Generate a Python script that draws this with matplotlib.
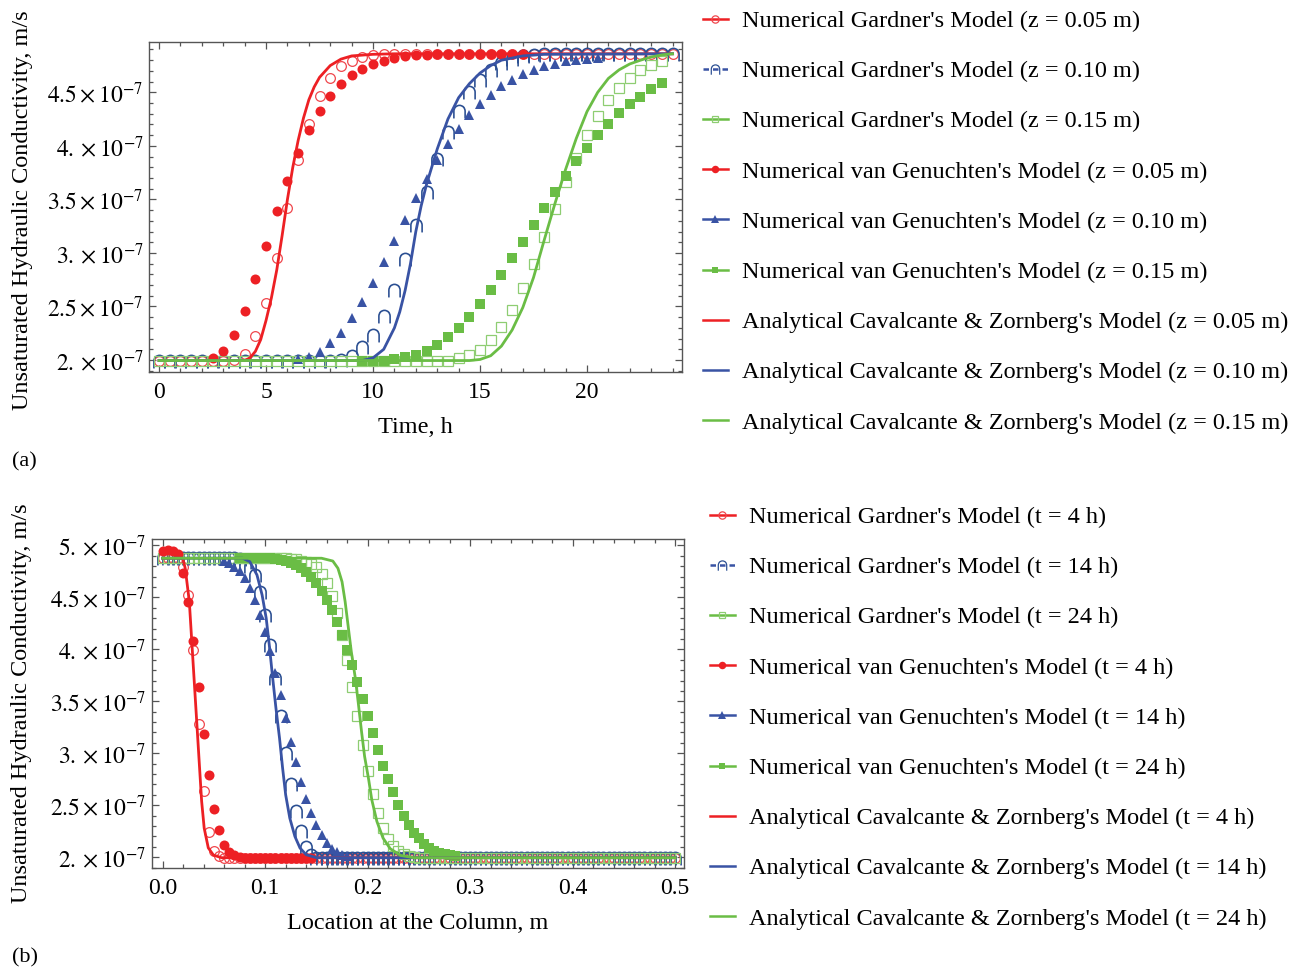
import matplotlib
matplotlib.use("Agg")
import matplotlib.pyplot as plt
from matplotlib.lines import Line2D
from matplotlib.ticker import FixedLocator, MultipleLocator, FuncFormatter

plt.rcParams['font.family'] = ['Liberation Serif', 'DejaVu Serif']
plt.rcParams['mathtext.fontset'] = 'stix'

# ---------------------------------------------------------------- colours
RED = '#ED2024'
RED_OPEN = '#F0474D'
BLUE = '#3953A4'
BLUE_DARK = '#2B4F92'
GREEN = '#6ABD45'
GREEN_OPEN = '#8ECD72'

# ------------------------------------------------ (a) K versus time, z fixed
TIME_H = [0, 0.5, 1, 1.5, 2, 2.5, 3, 3.5, 4, 4.5, 5, 5.5, 6, 6.5, 7, 7.5, 8,
          8.5, 9, 9.5, 10, 10.5, 11, 11.5, 12, 12.5, 13, 13.5, 14, 14.5, 15,
          15.5, 16, 16.5, 17, 17.5, 18, 18.5, 19, 19.5, 20, 20.5, 21, 21.5,
          22, 22.5, 23, 23.5, 24]

# hydraulic conductivity in units of 1e-7 m/s
GARDNER_Z005 = [1.99, 1.99, 1.99, 1.99, 1.99, 1.99, 1.99, 2.00, 2.056, 2.224,
                2.529, 2.951, 3.42, 3.866, 4.208, 4.466, 4.634, 4.743, 4.796,
                4.83, 4.848, 4.855, 4.86, 4.86, 4.86, 4.86, 4.86, 4.86, 4.86,
                4.86, 4.86, 4.86, 4.86, 4.86, 4.86, 4.86, 4.86, 4.86, 4.86,
                4.86, 4.86, 4.86, 4.86, 4.86, 4.86, 4.86, 4.86, 4.86, 4.86]
GARDNER_Z010 = [1.99, 1.99, 1.99, 1.99, 1.99, 1.99, 1.99, 1.99, 1.99, 1.99,
                1.99, 1.99, 1.99, 1.99, 1.99, 1.99, 1.99, 2.00, 2.04, 2.124,
                2.233, 2.41, 2.653, 2.94, 3.265, 3.57, 3.88, 4.13, 4.33, 4.503,
                4.618, 4.705, 4.77, 4.81, 4.835, 4.848, 4.855, 4.855, 4.855,
                4.855, 4.855, 4.855, 4.855, 4.855, 4.855, 4.855, 4.855, 4.855,
                4.855]
GARDNER_Z015 = [1.99, 1.99, 1.99, 1.99, 1.99, 1.99, 1.99, 1.99, 1.99, 1.99,
                1.99, 1.99, 1.99, 1.99, 1.99, 1.99, 1.99, 1.99, 1.99, 1.99,
                1.99, 1.99, 1.99, 1.99, 1.99, 1.99, 1.99, 1.99, 2.016, 2.047,
                2.093, 2.187, 2.31, 2.466, 2.675, 2.90, 3.15, 3.41, 3.663, 3.89,
                4.10, 4.276, 4.425, 4.54, 4.634, 4.705, 4.758, 4.792]
# van Genuchten runs cover a shorter window of TIME_H (start index given)
VG_Z005_START = 5
VG_Z005 = [2.016, 2.084, 2.233, 2.46, 2.753, 3.066, 3.387, 3.676, 3.934,
           4.152, 4.329, 4.466, 4.577, 4.659, 4.717, 4.761, 4.796, 4.82,
           4.836, 4.848, 4.852, 4.855, 4.855, 4.855, 4.855, 4.855, 4.855,
           4.855, 4.855, 4.855]
VG_Z010_START = 13
VG_Z010 = [2.01, 2.03, 2.078, 2.155, 2.255, 2.39, 2.54, 2.72, 2.917, 3.113,
           3.31, 3.51, 3.695, 3.87, 4.02, 4.16, 4.285, 4.388, 4.478, 4.556,
           4.618, 4.674, 4.705, 4.743, 4.768, 4.789, 4.80, 4.81, 4.818]
VG_Z015_START = 19
VG_Z015 = [1.99, 1.99, 1.995, 2.007, 2.025, 2.05, 2.087, 2.14, 2.218, 2.30,
           2.404, 2.522, 2.653, 2.793, 2.955, 3.104, 3.26, 3.42, 3.57, 3.72,
           3.86, 3.98, 4.10, 4.20, 4.307, 4.388, 4.46, 4.528, 4.587]

# closed-form solution, sampled more densely across each front
AN_Z005_T = [0, 4.0, 4.25, 4.5, 4.75, 5.0, 5.25, 5.5, 5.75, 6.0, 6.25, 6.5,
             6.75, 7.0, 7.25, 7.5, 8.0, 8.5, 9.0, 10.0, 11.0, 24.0]
AN_Z005_K = [1.995, 1.995, 2.02, 2.08, 2.19, 2.37, 2.58, 2.84, 3.16, 3.50,
             3.80, 4.05, 4.26, 4.43, 4.55, 4.64, 4.75, 4.81, 4.84, 4.855,
             4.86, 4.86]
AN_Z010_T = [0, 9.5, 10.0, 10.5, 11.0, 11.25, 11.5, 11.75, 12.0, 12.25, 12.5,
             13.0, 13.5, 14.0, 14.5, 15.0, 15.5, 16.0, 17.0, 18.0, 24.0]
AN_Z010_K = [1.995, 1.995, 2.02, 2.10, 2.30, 2.45, 2.65, 2.90, 3.20, 3.44,
             3.64, 3.97, 4.25, 4.45, 4.58, 4.68, 4.75, 4.80, 4.84, 4.855,
             4.86]
AN_Z015_T = [0, 14.5, 15.0, 15.5, 16.0, 16.5, 17.0, 17.5, 18.0, 18.5, 19.0,
             19.5, 20.0, 20.5, 21.0, 21.5, 22.0, 22.5, 23.0, 23.5, 24.0]
AN_Z015_K = [1.995, 1.995, 2.005, 2.04, 2.13, 2.28, 2.49, 2.77, 3.12, 3.46,
             3.78, 4.07, 4.32, 4.50, 4.63, 4.71, 4.765, 4.80, 4.83, 4.85,
             4.86]

# ----------------------------------------------- (b) K versus depth, t fixed
DEPTH_M = [0.0, 0.005, 0.01, 0.015, 0.02, 0.025, 0.03, 0.035, 0.04, 0.045,
           0.05, 0.055, 0.06, 0.065, 0.07, 0.075, 0.08, 0.085, 0.09, 0.095,
           0.1, 0.105, 0.11, 0.115, 0.12, 0.125, 0.13, 0.135, 0.14, 0.145,
           0.15, 0.155, 0.16, 0.165, 0.17, 0.175, 0.18, 0.185, 0.19, 0.195,
           0.2, 0.205, 0.21, 0.215, 0.22, 0.225, 0.23, 0.235, 0.24, 0.245,
           0.25, 0.255, 0.26, 0.265, 0.27, 0.275, 0.28, 0.285, 0.29, 0.295,
           0.3, 0.305, 0.31, 0.315, 0.32, 0.325, 0.33, 0.335, 0.34, 0.345,
           0.35, 0.355, 0.36, 0.365, 0.37, 0.375, 0.38, 0.385, 0.39, 0.395,
           0.4, 0.405, 0.41, 0.415, 0.42, 0.425, 0.43, 0.435, 0.44, 0.445,
           0.45, 0.455, 0.46, 0.465, 0.47, 0.475, 0.48, 0.485, 0.49, 0.495,
           0.5]

GARDNER_T4 = [4.877, 4.877, 4.877, 4.877, 4.79, 4.524, 3.99, 3.28, 2.64,
              2.24, 2.06, 2.01, 1.99, 1.99, 1.99, 1.99, 1.99, 1.99, 1.99,
              1.99, 1.99, 1.99, 1.99, 1.99, 1.99, 1.99, 1.99, 1.99, 1.99,
              1.99, 1.99, 1.99, 1.99, 1.99, 1.99, 1.99, 1.99, 1.99, 1.99,
              1.99, 1.99, 1.99, 1.99, 1.99, 1.99, 1.99, 1.99, 1.99, 1.99,
              1.99, 1.99, 1.99, 1.99, 1.99, 1.99, 1.99, 1.99, 1.99, 1.99,
              1.99, 1.99, 1.99, 1.99, 1.99, 1.99, 1.99, 1.99, 1.99, 1.99,
              1.99, 1.99, 1.99, 1.99, 1.99, 1.99, 1.99, 1.99, 1.99, 1.99,
              1.99, 1.99, 1.99, 1.99, 1.99, 1.99, 1.99, 1.99, 1.99, 1.99,
              1.99, 1.99, 1.99, 1.99, 1.99, 1.99, 1.99, 1.99, 1.99, 1.99,
              1.99, 1.99]
GARDNER_T14 = [4.877, 4.877, 4.877, 4.877, 4.877, 4.877, 4.877, 4.877,
               4.877, 4.877, 4.877, 4.877, 4.877, 4.877, 4.877, 4.865, 4.84,
               4.80, 4.72, 4.556, 4.33, 4.043, 3.72, 3.354, 3.0, 2.70, 2.44,
               2.25, 2.10, 2.02, 1.99, 1.99, 1.99, 1.99, 1.99, 1.99, 1.99,
               1.99, 1.99, 1.99, 1.99, 1.99, 1.99, 1.99, 1.99, 1.99, 1.99,
               1.99, 1.99, 1.99, 1.99, 1.99, 1.99, 1.99, 1.99, 1.99, 1.99,
               1.99, 1.99, 1.99, 1.99, 1.99, 1.99, 1.99, 1.99, 1.99, 1.99,
               1.99, 1.99, 1.99, 1.99, 1.99, 1.99, 1.99, 1.99, 1.99, 1.99,
               1.99, 1.99, 1.99, 1.99, 1.99, 1.99, 1.99, 1.99, 1.99, 1.99,
               1.99, 1.99, 1.99, 1.99, 1.99, 1.99, 1.99, 1.99, 1.99, 1.99,
               1.99, 1.99, 1.99, 1.99]
GARDNER_T24 = [4.877, 4.877, 4.877, 4.877, 4.877, 4.877, 4.877, 4.877,
               4.877, 4.877, 4.877, 4.877, 4.877, 4.877, 4.877, 4.877,
               4.877, 4.877, 4.877, 4.877, 4.877, 4.877, 4.877, 4.877,
               4.877, 4.87, 4.865, 4.85, 4.84, 4.82, 4.797, 4.723, 4.636,
               4.514, 4.354, 4.14, 3.90, 3.642, 3.354, 3.082, 2.825, 2.607,
               2.425, 2.28, 2.175, 2.104, 2.056, 2.03, 2.015, 2.005, 1.99,
               1.99, 1.99, 1.99, 1.99, 1.99, 1.99, 1.99, 1.99, 1.99, 1.99,
               1.99, 1.99, 1.99, 1.99, 1.99, 1.99, 1.99, 1.99, 1.99, 1.99,
               1.99, 1.99, 1.99, 1.99, 1.99, 1.99, 1.99, 1.99, 1.99, 1.99,
               1.99, 1.99, 1.99, 1.99, 1.99, 1.99, 1.99, 1.99, 1.99, 1.99,
               1.99, 1.99, 1.99, 1.99, 1.99, 1.99, 1.99, 1.99, 1.99, 1.99]
VG_T4_START = 0
VG_T4 = [4.95, 4.955, 4.95, 4.92, 4.733, 4.46, 4.082, 3.637, 3.185, 2.787,
         2.466, 2.258, 2.12, 2.05, 2.017, 2.0, 1.99, 1.99, 1.99, 1.99, 1.99,
         1.99, 1.99, 1.99, 1.99, 1.99, 1.99, 1.99, 1.99, 1.99]
VG_T14_START = 12
VG_T14 = [4.85, 4.83, 4.795, 4.755, 4.685, 4.59, 4.476, 4.33, 4.17, 3.98,
          3.77, 3.556, 3.338, 3.113, 2.912, 2.726, 2.56, 2.425, 2.306, 2.216,
          2.136, 2.08, 2.05, 2.025, 2.01]
VG_T24_START = 15
VG_T24 = [4.877, 4.877, 4.877, 4.877, 4.877, 4.877, 4.875, 4.87, 4.86, 4.85,
          4.835, 4.81, 4.78, 4.742, 4.70, 4.636, 4.563, 4.476, 4.38, 4.26,
          4.14, 3.995, 3.85, 3.69, 3.524, 3.36, 3.197, 3.034, 2.88, 2.752,
          2.623, 2.505, 2.40, 2.31, 2.23, 2.18, 2.13, 2.09, 2.06, 2.04, 2.03,
          2.02, 2.01]

AN_T4_X = [0, 0.018, 0.020, 0.022, 0.026, 0.028, 0.030, 0.032, 0.034, 0.036,
           0.038, 0.0405, 0.0445, 0.0495, 0.0575, 0.5]
AN_T4_K = [4.877, 4.877, 4.86, 4.78, 4.46, 4.14, 3.82, 3.50, 3.18, 2.86,
           2.54, 2.28, 2.09, 2.02, 1.995, 1.995]
AN_T14_X = [0, 0.078, 0.085, 0.092, 0.097, 0.101, 0.104, 0.107, 0.1105,
            0.114, 0.117, 0.120, 0.124, 0.129, 0.134, 0.140, 0.150, 0.5]
AN_T14_K = [4.877, 4.877, 4.844, 4.716, 4.524, 4.30, 4.043, 3.755, 3.435,
            3.146, 2.858, 2.60, 2.377, 2.20, 2.088, 2.024, 1.995, 1.995]
AN_T24_X = [0, 0.155, 0.166, 0.171, 0.175, 0.178, 0.181, 0.184, 0.188, 0.191,
            0.194, 0.197, 0.201, 0.204, 0.209, 0.215, 0.222, 0.232, 0.245,
            0.5]
AN_T24_K = [4.877, 4.877, 4.85, 4.78, 4.65, 4.46, 4.22, 3.98, 3.72, 3.47,
            3.21, 2.97, 2.745, 2.553, 2.344, 2.184, 2.082, 2.017, 1.995,
            1.995]

Y_TICKS_A = [2.0, 2.5, 3.0, 3.5, 4.0, 4.5]
Y_TICKS_B = [2.0, 2.5, 3.0, 3.5, 4.0, 4.5, 5.0]
X_TICKS_A = [0, 5, 10, 15, 20]
X_TICKS_B = [0.0, 0.1, 0.2, 0.3, 0.4, 0.5]

Y_LABEL = 'Unsaturated Hydraulic Conductivity, m/s'

# ------------------------------------------------------------ marker styles
ARCH = r'$\cap$'
STYLE = {
    'g_red':   dict(marker='o', ms=7.0, mfc='none', mec=RED_OPEN, mew=0.9, color=RED),
    'g_blue':  dict(marker=ARCH, ms=10.0, mfc=BLUE_DARK, mec=BLUE_DARK, mew=0.0, color=BLUE),
    'g_green': dict(marker='s', ms=6.5, mfc='none', mec=GREEN_OPEN, mew=0.9, color=GREEN),
    'v_red':   dict(marker='o', ms=7.2, mfc=RED, mec=RED, mew=0.0, color=RED),
    'v_blue':  dict(marker='^', ms=7.2, mfc=BLUE, mec=BLUE, mew=0.0, color=BLUE),
    'v_green': dict(marker='s', ms=6.6, mfc=GREEN, mec=GREEN, mew=0.0, color=GREEN),
}
LINE_W = 2.0
FRAME = '#555555'
TEXT_SIZE = 17.5


def k_label(v, _pos=None):
    s = f'{int(round(v))}.' if abs(v - round(v)) < 1e-9 else f'{v:g}'
    return rf'${s}\times10^{{-7}}$'


def scatter(ax, x, y, key, z):
    st = dict(STYLE[key])
    st.pop('color')
    ax.plot(x, y, ls='none', zorder=z, clip_on=True, **st)


def style_axes(ax, xticks, xminor, yticks, xfmt):
    for sp in ax.spines.values():
        sp.set_color(FRAME)
        sp.set_linewidth(1.0)
    ax.xaxis.set_major_locator(FixedLocator(xticks))
    ax.xaxis.set_minor_locator(MultipleLocator(xminor))
    ax.yaxis.set_major_locator(FixedLocator(yticks))
    ax.yaxis.set_minor_locator(MultipleLocator(0.1))
    ax.xaxis.set_major_formatter(FuncFormatter(xfmt))
    ax.yaxis.set_major_formatter(FuncFormatter(k_label))
    ax.tick_params(which='both', direction='in', top=True, right=True,
                   color=FRAME, width=0.9, labelcolor='black')
    ax.tick_params(axis='x', labelsize=17)
    ax.tick_params(axis='y', labelsize=17)
    ax.tick_params(which='major', length=5)
    ax.tick_params(which='minor', length=3)
    ax.tick_params(axis='x', pad=7)
    ax.tick_params(axis='y', pad=4)


def legend_handles():
    hs = []
    for key, ls in [('g_red', '-'), ('g_blue', (0, (2.2, 1.6))), ('g_green', '-'),
                    ('v_red', '-'), ('v_blue', '-'), ('v_green', '-')]:
        st = dict(STYLE[key])
        color = st.pop('color')
        st['ms'] = st['ms'] * 0.75
        hs.append(Line2D([], [], color=color, lw=1.8, ls=ls, **st))
    for color in (RED, BLUE, GREEN):
        hs.append(Line2D([], [], color=color, lw=1.8))
    return hs


fig = plt.figure(figsize=(13.01, 9.71), dpi=100)
W, H = 1301.0, 971.0

# ------------------------------------------------------------------ panel (a)
ax1 = fig.add_axes([149 / W, 1 - 372 / H, 533 / W, 330 / H])
scatter(ax1, TIME_H, GARDNER_Z005, 'g_red', 3)
scatter(ax1, TIME_H, GARDNER_Z010, 'g_blue', 3)
scatter(ax1, TIME_H[:len(GARDNER_Z015)], GARDNER_Z015, 'g_green', 3)
scatter(ax1, TIME_H[VG_Z005_START:VG_Z005_START + len(VG_Z005)], VG_Z005, 'v_red', 4)
scatter(ax1, TIME_H[VG_Z010_START:VG_Z010_START + len(VG_Z010)], VG_Z010, 'v_blue', 4)
scatter(ax1, TIME_H[VG_Z015_START:VG_Z015_START + len(VG_Z015)], VG_Z015, 'v_green', 4)
ax1.plot(AN_Z005_T, AN_Z005_K, color=RED, lw=LINE_W, zorder=5)
ax1.plot(AN_Z010_T, AN_Z010_K, color=BLUE, lw=LINE_W, zorder=5)
ax1.plot(AN_Z015_T, AN_Z015_K, color=GREEN, lw=LINE_W, zorder=5)
ax1.set_xlim(-0.47, 24.44)
ax1.set_ylim(1.888, 4.97)
style_axes(ax1, X_TICKS_A, 1, Y_TICKS_A, lambda v, p: f'{v:g}')
ax1.set_xlabel('Time, h', fontsize=TEXT_SIZE)
ax1.xaxis.set_label_coords(0.5, -0.167)
ax1.xaxis.label.set_va('center')
ax1.set_ylabel(Y_LABEL, fontsize=TEXT_SIZE)
ax1.yaxis.set_label_coords(-0.238, 0.49)
ax1.yaxis.label.set_va('center')

labels_a = ["Numerical Gardner's Model (z = 0.05 m)",
            "Numerical Gardner's Model (z = 0.10 m)",
            "Numerical Gardner's Model (z = 0.15 m)",
            "Numerical van Genuchten's Model (z = 0.05 m)",
            "Numerical van Genuchten's Model (z = 0.10 m)",
            "Numerical van Genuchten's Model (z = 0.15 m)",
            "Analytical Cavalcante & Zornberg's Model (z = 0.05 m)",
            "Analytical Cavalcante & Zornberg's Model (z = 0.10 m)",
            "Analytical Cavalcante & Zornberg's Model (z = 0.15 m)"]
fig.legend(legend_handles(), labels_a, loc='upper left',
           bbox_to_anchor=(703 / W, 1 - 10 / H), frameon=False,
           fontsize=TEXT_SIZE, borderpad=0, borderaxespad=0,
           handlelength=1.02, handletextpad=0.6, labelspacing=1.16)

# ------------------------------------------------------------------ panel (b)
ax2 = fig.add_axes([151.7 / W, 1 - 868 / H, 532.3 / W, 329 / H])
scatter(ax2, DEPTH_M, GARDNER_T4, 'g_red', 3)
scatter(ax2, DEPTH_M, GARDNER_T14, 'g_blue', 3)
scatter(ax2, DEPTH_M, GARDNER_T24, 'g_green', 3)
scatter(ax2, DEPTH_M[VG_T4_START:VG_T4_START + len(VG_T4)], VG_T4, 'v_red', 4)
scatter(ax2, DEPTH_M[VG_T14_START:VG_T14_START + len(VG_T14)], VG_T14, 'v_blue', 4)
scatter(ax2, DEPTH_M[VG_T24_START:VG_T24_START + len(VG_T24)], VG_T24, 'v_green', 4)
ax2.plot(AN_T4_X, AN_T4_K, color=RED, lw=LINE_W, zorder=5)
ax2.plot(AN_T14_X, AN_T14_K, color=BLUE, lw=LINE_W, zorder=5)
ax2.plot(AN_T24_X, AN_T24_K, color=GREEN, lw=LINE_W, zorder=5)
ax2.set_xlim(-0.0107, 0.5086)
ax2.set_ylim(1.896, 5.062)
style_axes(ax2, X_TICKS_B, 0.02, Y_TICKS_B, lambda v, p: f'{v:.1f}')
ax2.set_xlabel('Location at the Column, m', fontsize=TEXT_SIZE)
ax2.xaxis.set_label_coords(0.5, -0.168)
ax2.xaxis.label.set_va('center')
ax2.set_ylabel(Y_LABEL, fontsize=TEXT_SIZE)
ax2.yaxis.set_label_coords(-0.244, 0.5)
ax2.yaxis.label.set_va('center')

labels_b = ["Numerical Gardner's Model (t = 4 h)",
            "Numerical Gardner's Model (t = 14 h)",
            "Numerical Gardner's Model (t = 24 h)",
            "Numerical van Genuchten's Model (t = 4 h)",
            "Numerical van Genuchten's Model (t = 14 h)",
            "Numerical van Genuchten's Model (t = 24 h)",
            "Analytical Cavalcante & Zornberg's Model (t = 4 h)",
            "Analytical Cavalcante & Zornberg's Model (t = 14 h)",
            "Analytical Cavalcante & Zornberg's Model (t = 24 h)"]
fig.legend(legend_handles(), labels_b, loc='upper left',
           bbox_to_anchor=(710 / W, 1 - 506 / H), frameon=False,
           fontsize=TEXT_SIZE, borderpad=0, borderaxespad=0,
           handlelength=1.02, handletextpad=0.6, labelspacing=1.16)

fig.text(12 / W, 1 - 462 / H, '(a)', fontsize=16, va='center', ha='left')
fig.text(12 / W, 1 - 958 / H, '(b)', fontsize=16, va='center', ha='left')

fig.savefig('out.png', dpi=100)
